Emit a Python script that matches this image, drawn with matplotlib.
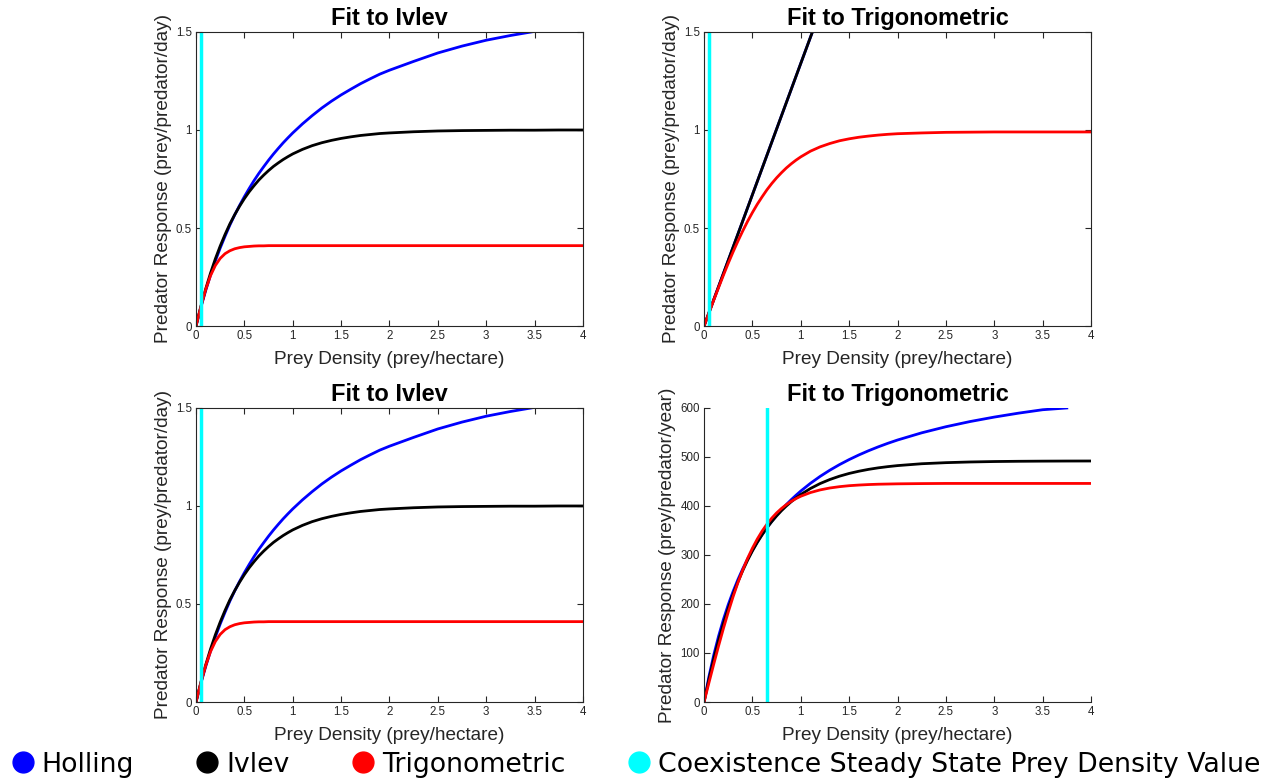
import numpy as np
import matplotlib
matplotlib.use("Agg")
import matplotlib.pyplot as plt
from matplotlib.lines import Line2D

# prey density grid (prey/hectare) the curves were read at
prey = [0, 0.05, 0.1, 0.15, 0.2, 0.25, 0.3, 0.35, 0.4, 0.45, 0.5, 0.55, 0.6, 0.65, 0.7,
        0.75, 0.8, 0.85, 0.9, 0.95, 1.0, 1.1, 1.2, 1.3, 1.4, 1.5, 1.6, 1.7, 1.8, 1.9, 2.0,
        2.25, 2.5, 2.75, 3.0, 3.25, 3.5, 3.75, 4.0]

# fit to Ivlev (prey/predator/day) - top left and bottom left
holl_day = [0, 0.095, 0.181, 0.260, 0.332, 0.398, 0.458, 0.515, 0.567, 0.615, 0.660, 0.702,
            0.742, 0.779, 0.813, 0.846, 0.877, 0.906, 0.934, 0.960, 0.985, 1.031, 1.073,
            1.112, 1.147, 1.179, 1.208, 1.236, 1.261, 1.285, 1.305, 1.350, 1.393, 1.428,
            1.458, 1.482, 1.503]
ivlev_day = [0, 0.100, 0.189, 0.270, 0.343, 0.408, 0.467, 0.521, 0.568, 0.611, 0.650, 0.685,
             0.716, 0.745, 0.770, 0.793, 0.814, 0.832, 0.849, 0.864, 0.878, 0.901, 0.920,
             0.935, 0.947, 0.957, 0.965, 0.972, 0.977, 0.982, 0.985, 0.991, 0.995, 0.997,
             0.998, 0.999, 0.999, 1.000, 1.000]
trig_day = [0, 0.098, 0.186, 0.257, 0.309, 0.345, 0.369, 0.384, 0.394, 0.400, 0.404, 0.406,
            0.408, 0.409, 0.409] + [0.410] * 24

# fit to Trigonometric (prey/predator/day) - top right
lin_x = [0, 0.25, 0.5, 0.75, 1.0, 1.12]
holl_tr = [0, 0.335, 0.670, 1.005, 1.340, 1.500]
ivlev_tr = [0, 0.335, 0.670, 1.005, 1.340, 1.500]
trig_tr = [0, 0.066, 0.132, 0.196, 0.259, 0.320, 0.378, 0.433, 0.485, 0.534, 0.579, 0.621,
           0.659, 0.695, 0.727, 0.756, 0.782, 0.806, 0.827, 0.846, 0.863, 0.892, 0.914,
           0.931, 0.945, 0.955, 0.963, 0.969, 0.974, 0.978, 0.981, 0.985, 0.988, 0.989,
           0.990, 0.990, 0.990, 0.990, 0.990]

# fit to Trigonometric (prey/predator/year) - bottom right
holl_year = [0, 51.3, 95.6, 134.2, 168.3, 198.6, 225.5, 249.8, 271.8, 291.7, 309.8, 326.5,
             341.8, 355.9, 368.9, 381.0, 392.3, 402.8, 412.6, 421.8, 430.5, 446.3, 460.4,
             473.0, 484.4, 494.7, 504.1, 512.7, 520.6, 527.9, 534.6, 549.3, 561.7, 572.3,
             581.4, 589.4, 596.4, 600.0]
ivlev_year = [0, 46.1, 88.0, 125.9, 160.2, 191.3, 219.5, 245.1, 268.2, 289.2, 308.3, 325.5,
              341.1, 355.3, 368.1, 379.7, 390.3, 399.8, 408.5, 416.3, 423.4, 435.7, 445.8,
              454.0, 460.8, 466.4, 470.9, 474.7, 477.8, 480.3, 482.4, 486.2, 488.4, 489.8,
              490.7, 491.2, 491.5, 491.7, 491.8]
trig_year = [0, 38.9, 77.2, 114.4, 150.0, 183.5, 214.8, 243.5, 269.5, 293.1, 313.9, 332.4,
             348.7, 362.8, 375.2, 385.8, 394.9, 402.7, 409.3, 415.0, 419.9, 427.4, 432.8,
             436.7, 439.4, 441.4, 442.7, 443.7, 444.4, 444.8, 445.2, 445.7] + [446] * 7

# coexistence steady state prey density per panel
steady = [0.05, 0.05, 0.05, 0.65]

titles = ["Fit to Ivlev", "Fit to Trigonometric", "Fit to Ivlev", "Fit to Trigonometric"]
ylabels = ["Predator Response (prey/predator/day)"] * 3 + ["Predator Response (prey/predator/year)"]
xticks = [0, 0.5, 1, 1.5, 2, 2.5, 3, 3.5, 4]
xtick_labels = ["0", "0.5", "1", "1.5", "2", "2.5", "3", "3.5", "4"]
yticks_day = [0, 0.5, 1, 1.5]
yticks_day_labels = ["0", "0.5", "1", "1.5"]
yticks_year = [0, 100, 200, 300, 400, 500, 600]

plt.rcParams["font.family"] = ["Liberation Sans", "DejaVu Sans"]
axcol = "#262626"

fig = plt.figure(figsize=(12.72, 7.82), dpi=100)
w, h = 0.3042, 0.376
positions = [[0.1541, 0.5831, w, h], [0.5535, 0.5831, w, h],
             [0.1541, 0.1023, w, h], [0.5535, 0.1023, w, h]]

curves = [
    ((prey[:len(holl_day)], holl_day), (prey, ivlev_day), (prey, trig_day)),
    ((lin_x, holl_tr), (lin_x, ivlev_tr), (prey, trig_tr)),
    ((prey[:len(holl_day)], holl_day), (prey, ivlev_day), (prey, trig_day)),
    ((prey[:len(holl_year)], holl_year), (prey, ivlev_year), (prey, trig_year)),
]
colors = ["blue", "black", "red"]

for i in range(4):
    ax = fig.add_axes(positions[i])
    for (xs, ys), c in zip(curves[i], colors):
        ax.plot(xs, ys, color=c, lw=2)
    ax.axvline(steady[i], color="cyan", lw=2.5)
    ax.set_xlim(0, 4)
    ax.set_xticks(xticks)
    ax.set_xticklabels(xtick_labels)
    if i < 3:
        ax.set_ylim(0, 1.5)
        ax.set_yticks(yticks_day)
        ax.set_yticklabels(yticks_day_labels)
        ax.tick_params(direction="in", top=True, right=True, length=4, width=0.8,
                       labelsize=8.3, colors=axcol, pad=3)
    else:
        ax.set_ylim(0, 600)
        ax.set_yticks(yticks_year)
        ax.spines["top"].set_visible(False)
        ax.spines["right"].set_visible(False)
        ax.tick_params(direction="in", length=4, width=0.8, labelsize=8.3,
                       colors=axcol, pad=3)
    for s in ax.spines.values():
        s.set_color(axcol)
        s.set_linewidth(0.8)
    ax.set_title(titles[i], fontsize=17, fontweight="bold", pad=5)
    ax.set_xlabel("Prey Density (prey/hectare)", fontsize=13.7, color=axcol, labelpad=6)
    ax.set_ylabel(ylabels[i], fontsize=13.7, color=axcol, labelpad=3)

handles = [Line2D([], [], ls="none", marker="o", ms=15, color=c)
           for c in ["blue", "black", "red", "cyan"]]
names = ["Holling", "Ivlev", "Trigonometric", "Coexistence Steady State Prey Density Value"]
fig.legend(handles, names, loc="center", bbox_to_anchor=(0.5, 0.022), ncol=4,
           frameon=False, handlelength=0.8, handletextpad=0.3, columnspacing=2.35,
           prop={"family": "DejaVu Sans", "size": 19.3})

fig.savefig("out.png", dpi=100)
